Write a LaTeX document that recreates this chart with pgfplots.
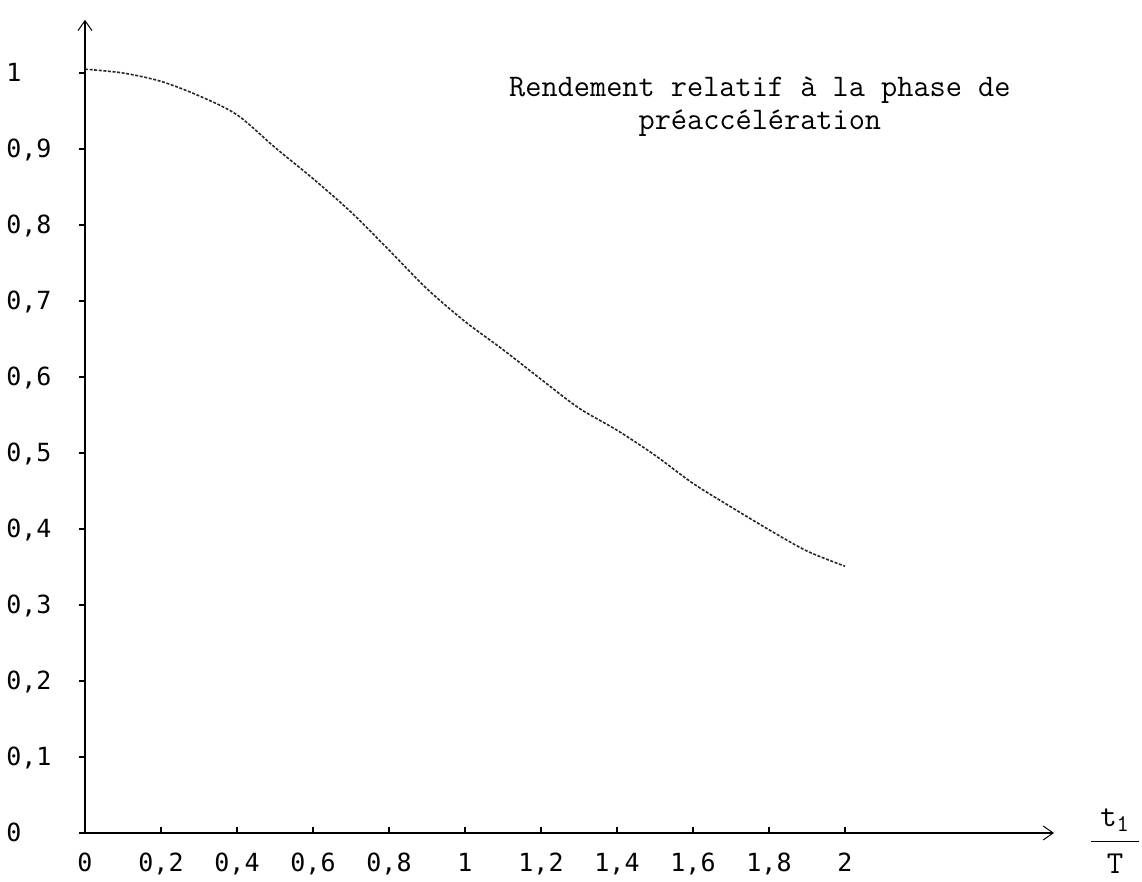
\documentclass[border=0pt]{standalone}
\usepackage{fontspec}
\usepackage{pgfplots}
\pgfplotsset{compat=1.18}
\usetikzlibrary{arrows.meta}
\newfontfamily\ticfont{DejaVu Sans Mono}

\begin{document}
\begin{tikzpicture}
% page = 1142 x 882 px at 0.5pt per px, axis origin at px (85,833)
\useasboundingbox (-42.5pt,-24.5pt) rectangle (528.5pt,416.5pt);
\begin{axis}[
  at={(0,0)}, anchor=south west,
  x=190pt, y=380pt,
  xmin=0, xmax=2.55, ymin=0, ymax=1.07,
  axis lines=left,
  axis line style={line width=0.8pt,
    -{Straight Barb[length=5pt, width=7pt, line width=0.5pt]}},
  xtick={0,0.2,0.4,0.6,0.8,1,1.2,1.4,1.6,1.8,2},
  ytick={0,0.1,0.2,0.3,0.4,0.5,0.6,0.7,0.8,0.9,1},
  xtick align=inside, ytick align=outside,
  major tick length=3pt,
  tick style={black, line width=0.6pt},
  /pgf/number format/assume math mode=true,
  /pgf/number format/use comma,
  ticklabel style={font=\ticfont\fontsize{12.5}{12.5}\selectfont, inner sep=0pt},
  yticklabel style={anchor=base west, xshift=-36.5pt, yshift=-4.5pt},
  xticklabel style={anchor=base, yshift=-19.5pt},
  clip=false,
]
\addplot[black!85, line width=0.8pt, smooth, dash pattern=on 1.5pt off 0.8pt]
  coordinates {
  (0,1.005) (0.1,1.0) (0.2,0.989) (0.3,0.970) (0.4,0.945) (0.5,0.902)
  (0.6,0.861) (0.7,0.817) (0.8,0.767) (0.9,0.716) (1.0,0.673) (1.1,0.636)
  (1.2,0.597) (1.3,0.559) (1.4,0.530) (1.5,0.497) (1.6,0.460) (1.7,0.429)
  (1.8,0.399) (1.9,0.371) (2.0,0.351)
  };
\node[anchor=north, align=center, inner sep=0pt,
  font=\ttfamily\fontsize{15.7}{16.5}\selectfont]
  at (axis cs:1.776,0.995) {Rendement relatif à la phase de\\préaccélération};
\node[inner sep=0pt, font=\ttfamily\fontsize{16}{16}\selectfont]
  at (axis cs:2.711,-0.011)
  {$\displaystyle\frac{\mbox{t}_{\mbox{\ttfamily\fontsize{12}{12}\selectfont 1}}}{\makebox[24pt]{T}}$};
\end{axis}
\end{tikzpicture}
\end{document}
